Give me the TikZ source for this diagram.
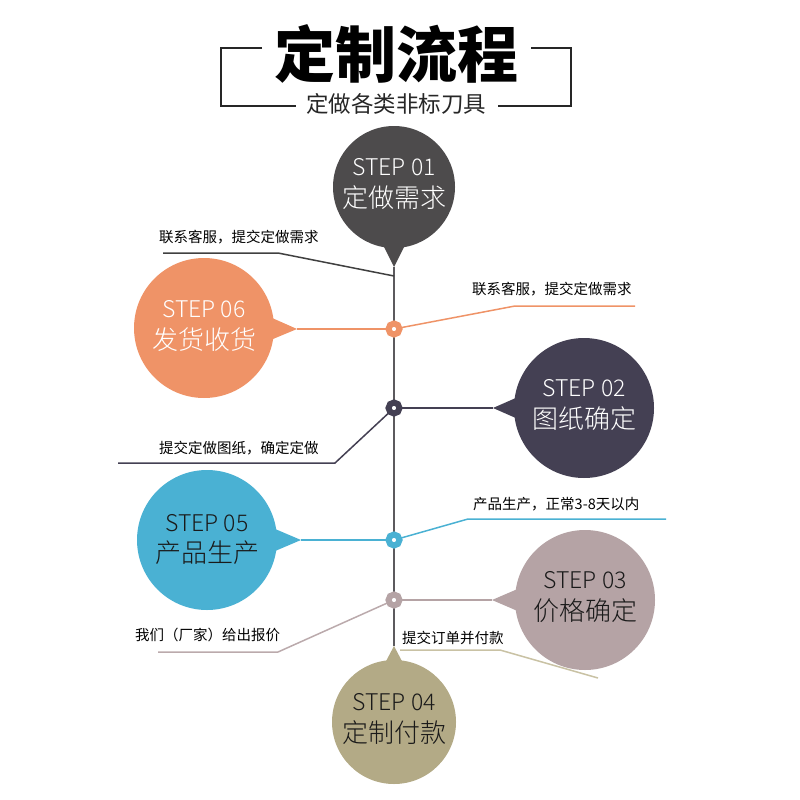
\documentclass[tikz,border=0pt]{standalone}
\usepackage{fontspec}
\setmainfont{Noto Sans CJK SC}
\newfontfamily\lightfont{Noto Sans CJK SC Light}
\usetikzlibrary{calc,backgrounds}
\definecolor{cA}{HTML}{4D4B4C}
\definecolor{cF}{HTML}{EF9367}
\definecolor{cB}{HTML}{444053}
\definecolor{cE}{HTML}{4AB1D3}
\definecolor{cC}{HTML}{B5A3A5}
\definecolor{cD}{HTML}{B3AA86}
\definecolor{cM}{HTML}{5C5A5E}
\definecolor{cDl}{HTML}{C9C2A4}
\definecolor{cCl}{HTML}{BBAAAC}
\definecolor{cT}{HTML}{1A1A1A}
\newcommand\bubtip[3]{%
  \coordinate (#1-b) at ($(#1.center)!0.6!(#2)$);
  \fill[#3] (#2) -- ($(#1-b)!16pt!90:(#2)$) -- ($(#1-b)!16pt!-90:(#2)$) -- cycle;}
\tikzset{
  bub/.style={circle, inner sep=0pt, draw=none},
  ring/.style={circle, fill=white, line width=6pt, minimum size=11pt, inner sep=0pt},
  steptxt/.style={font=\lightfont\fontsize{23}{23}\selectfont, inner sep=0pt},
  cjktxt/.style={font=\lightfont\fontsize{26}{26}\selectfont, inner sep=0pt},
  lbl/.style={font=\fontsize{14.5}{14.5}\selectfont, inner sep=0pt, anchor=west, text=black},
  conn/.style={line width=1.5pt},
  frame/.style={line width=1.4pt, draw=black!85},
}
\begin{document}
\begin{tikzpicture}[x=1pt,y=-1pt]
\useasboundingbox (0,0) rectangle (800,800);
% title
\node[font=\bfseries\fontsize{61}{61}\selectfont, inner sep=0pt] (title) at (396,54) {定制流程};
\node[font=\fontsize{22.5}{22.5}\selectfont, inner sep=0pt, text=black!85] (sub) at (396,104) {定做各类非标刀具};
\draw[frame] (262,48) -- (221,48) -- (221,106) -- (296,106);
\draw[frame] (531,48) -- (571,48) -- (571,106) -- (498,106);
% bubbles
\node[bub, fill=cA, minimum size=122pt] (s1) at (394,187) {};
\node[bub, fill=cF, minimum size=140pt] (s6) at (204,328) {};
\node[bub, fill=cB, minimum size=140pt] (s2) at (584,408) {};
\node[bub, fill=cE, minimum size=140pt] (s5) at (207,540) {};
\node[bub, fill=cC, minimum size=140pt] (s3) at (585,600) {};
\node[bub, fill=cD, minimum size=124pt] (s4) at (394,722) {};
\coordinate (t1) at (394,267);
\coordinate (t6) at (297,329);
\coordinate (t2) at (493,408);
\coordinate (t5) at (301,540);
\coordinate (t3) at (492,600);
\coordinate (t4) at (394,646);
\bubtip{s1}{t1}{cA}
\bubtip{s6}{t6}{cF}
\bubtip{s2}{t2}{cB}
\bubtip{s5}{t5}{cE}
\bubtip{s3}{t3}{cC}
\bubtip{s4}{t4}{cD}
% bubble texts
\node[steptxt, text=white] (s1a) at ($(s1)+(0,-20)$) {STEP 01};
\node[cjktxt, text=white] (s1c) at ($(s1)+(0,11)$) {定做需求};
\node[steptxt, text=white] (s6a) at ($(s6)+(0,-19)$) {STEP 06};
\node[cjktxt, text=white] (s6c) at ($(s6)+(0,12)$) {发货收货};
\node[steptxt, text=white] (s2a) at ($(s2)+(0,-20)$) {STEP 02};
\node[cjktxt, text=white] (s2c) at ($(s2)+(0,11)$) {图纸确定};
\node[steptxt, text=cT] (s5a) at ($(s5)+(0,-17)$) {STEP 05};
\node[cjktxt, text=cT] (s5c) at ($(s5)+(0,13)$) {产品生产};
\node[steptxt, text=cT] (s3a) at ($(s3)+(0,-20)$) {STEP 03};
\node[cjktxt, text=cT] (s3c) at ($(s3)+(0,11)$) {价格确定};
\node[steptxt, text=cT] (s4a) at ($(s4)+(0,-20)$) {STEP 04};
\node[cjktxt, text=cT] (s4c) at ($(s4)+(0,11)$) {定制付款};
% ring nodes
\node[ring, draw=cF] (n6) at (394,329) {};
\node[ring, draw=cB] (n2) at (394,408) {};
\node[ring, draw=cE] (n5) at (394,540) {};
\node[ring, draw=cC] (n3) at (394,600) {};
% labels
\node[lbl] (l1) at (159,237) {联系客服，提交定做需求};
\node[lbl] (l6) at (472,289) {联系客服，提交定做需求};
\node[lbl] (l2) at (159,448) {提交定做图纸，确定定做};
\node[lbl] (l5) at (473,504) {产品生产，正常3-8天以内};
\node[lbl] (l3) at (135,635) {我们（厂家）给出报价};
\node[lbl] (l4) at (402,638) {提交订单并付款};
% line points
\coordinate (j1) at (394,276);
\coordinate (b1) at (278,253); \coordinate (e1) at (163,253);
\coordinate (b6) at (515,306); \coordinate (e6) at (635,306);
\coordinate (b2) at (335,463); \coordinate (e2) at (118,463);
\coordinate (b5) at (468,519); \coordinate (e5) at (666,519);
\coordinate (b3) at (278,652); \coordinate (e3) at (158,652);
\coordinate (j4) at (400,650); \coordinate (b4) at (500,650); \coordinate (e4) at (598,678);
\begin{scope}[on background layer]
\draw[line width=2.5pt, cM] (t1) -- (t4);
\draw[conn, draw=black!75] (e1) -- (b1) -- (j1);
\draw[conn, cF] (t6) -- (n6.center);
\draw[conn, cF] (n6.center) -- (b6) -- (e6);
\draw[conn, cB] (n2.center) -- (t2);
\draw[conn, cB] (n2.center) -- (b2) -- (e2);
\draw[conn, cE] (t5) -- (n5.center);
\draw[conn, cE] (n5.center) -- (b5) -- (e5);
\draw[conn, cC] (n3.center) -- (t3);
\draw[conn, cCl] (n3.center) -- (b3) -- (e3);
\draw[conn, cDl] (j4) -- (b4) -- (e4);
\end{scope}
\end{tikzpicture}
\end{document}
